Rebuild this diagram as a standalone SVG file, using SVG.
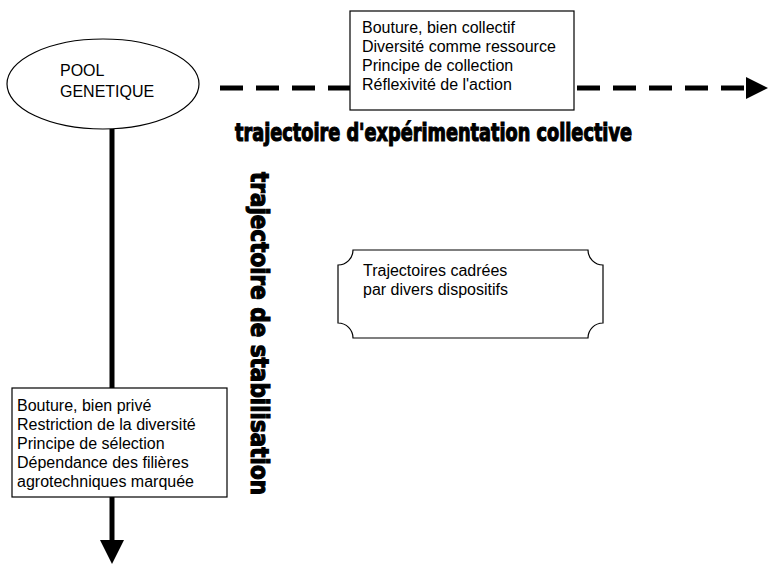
<svg xmlns="http://www.w3.org/2000/svg" width="770" height="565" viewBox="0 0 770 565">
<style>
.t{font-family:"Liberation Sans",Arial,sans-serif;font-size:16px;fill:#000}
.b{font-family:"DejaVu Sans Condensed","DejaVu Sans",sans-serif;font-weight:bold;font-size:24px;fill:#000;stroke:#000;stroke-width:1.1}
.box{fill:#fff;stroke:#000;stroke-width:1.2}
.dash{stroke:#000;stroke-width:5;fill:none;stroke-dasharray:23 13}
.solid{stroke:#000;stroke-width:5;fill:none}
</style>
<rect width="770" height="565" fill="#fff"/>
<g id="connectors">
<path class="dash" d="M220,88 H350"/>
<path class="dash" d="M577,88 H745"/>
<polygon points="746,77 768,88 746,99" fill="#000"/>
<path class="solid" d="M112,129 V388"/>
<path class="solid" d="M112,497 V542"/>
<polygon points="100,540 124,540 112,564" fill="#000"/>
</g>
<g id="pool">
<ellipse class="box" cx="103" cy="84" rx="96" ry="45"/>
<text class="t" x="60" y="76">POOL</text>
<text class="t" x="60" y="97">GENETIQUE</text>
</g>
<g id="collectif">
<rect class="box" x="350" y="11" width="224" height="99"/>
<text class="t" x="362" y="33">Bouture, bien collectif</text>
<text class="t" x="362" y="52">Diversité comme ressource</text>
<text class="t" x="362" y="71">Principe de collection</text>
<text class="t" x="362" y="90">Réflexivité de l'action</text>
</g>
<g id="label-experimentation">
<text class="b" x="235" y="141" textLength="397" lengthAdjust="spacingAndGlyphs">trajectoire d'expérimentation collective</text>
</g>
<g id="label-stabilisation">
<text class="b" transform="translate(251,172) rotate(90)" x="0" y="0" textLength="323" lengthAdjust="spacingAndGlyphs">trajectoire de stabilisation</text>
</g>
<g id="cadrees">
<path class="box" d="M353,250 H588 A15,15 0 0 0 603,265 V323 A15,15 0 0 0 588,338 H353 A15,15 0 0 0 338,323 V265 A15,15 0 0 0 353,250 Z"/>
<text class="t" x="363" y="276">Trajectoires cadrées</text>
<text class="t" x="363" y="295">par divers dispositifs</text>
</g>
<g id="prive">
<rect class="box" x="12" y="388" width="215" height="109"/>
<text class="t" x="17" y="411">Bouture, bien privé</text>
<text class="t" x="17" y="430">Restriction de la diversité</text>
<text class="t" x="17" y="449">Principe de sélection</text>
<text class="t" x="17" y="468">Dépendance des filières</text>
<text class="t" x="17" y="487">agrotechniques marquée</text>
</g>
</svg>
